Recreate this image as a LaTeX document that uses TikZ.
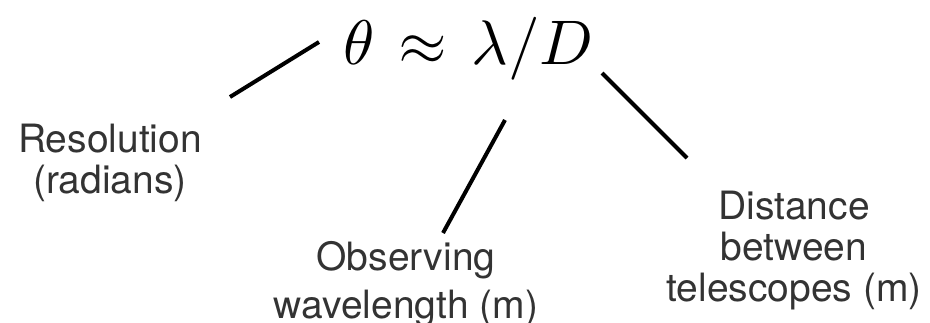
\documentclass[tikz,border=0pt]{standalone}
\usepackage{fontspec}
\setmainfont{TeX Gyre Heros}
\usepackage{unicode-math}
\setmathfont{Latin Modern Math}
\begin{document}
\begin{tikzpicture}[x=1pt,y=-1pt,
  lbl/.style={inner sep=0pt, align=center, text=black!80,
    font=\fontsize{39}{41}\selectfont},
  link/.style={line width=4pt, black}]
\useasboundingbox (0,0) rectangle (930,323);
\node[inner sep=0pt, anchor=base, font=\fontsize{63}{66}\selectfont] (eq) at (468,65) {$\theta\mskip2mu\approx\mskip2mu\lambda/D$};
\node[lbl, anchor=north] (res) at (110,124) {Resolution\\(radians)};
\node[lbl, anchor=north] (obs) at (406,241) {Observing\\[7pt]wavelength (m)};
\node[lbl, anchor=north] (dist) at (794,191) {Distance\\between\\telescopes (m)};
\coordinate (a1) at (230,97);
\coordinate (a2) at (319,42);
\coordinate (b1) at (505,120);
\coordinate (b2) at (443,233);
\coordinate (c1) at (602,73);
\coordinate (c2) at (687,158);
\draw[link] (a1) -- (a2);
\draw[link] (b1) -- (b2);
\draw[link] (c1) -- (c2);
\end{tikzpicture}
\end{document}
